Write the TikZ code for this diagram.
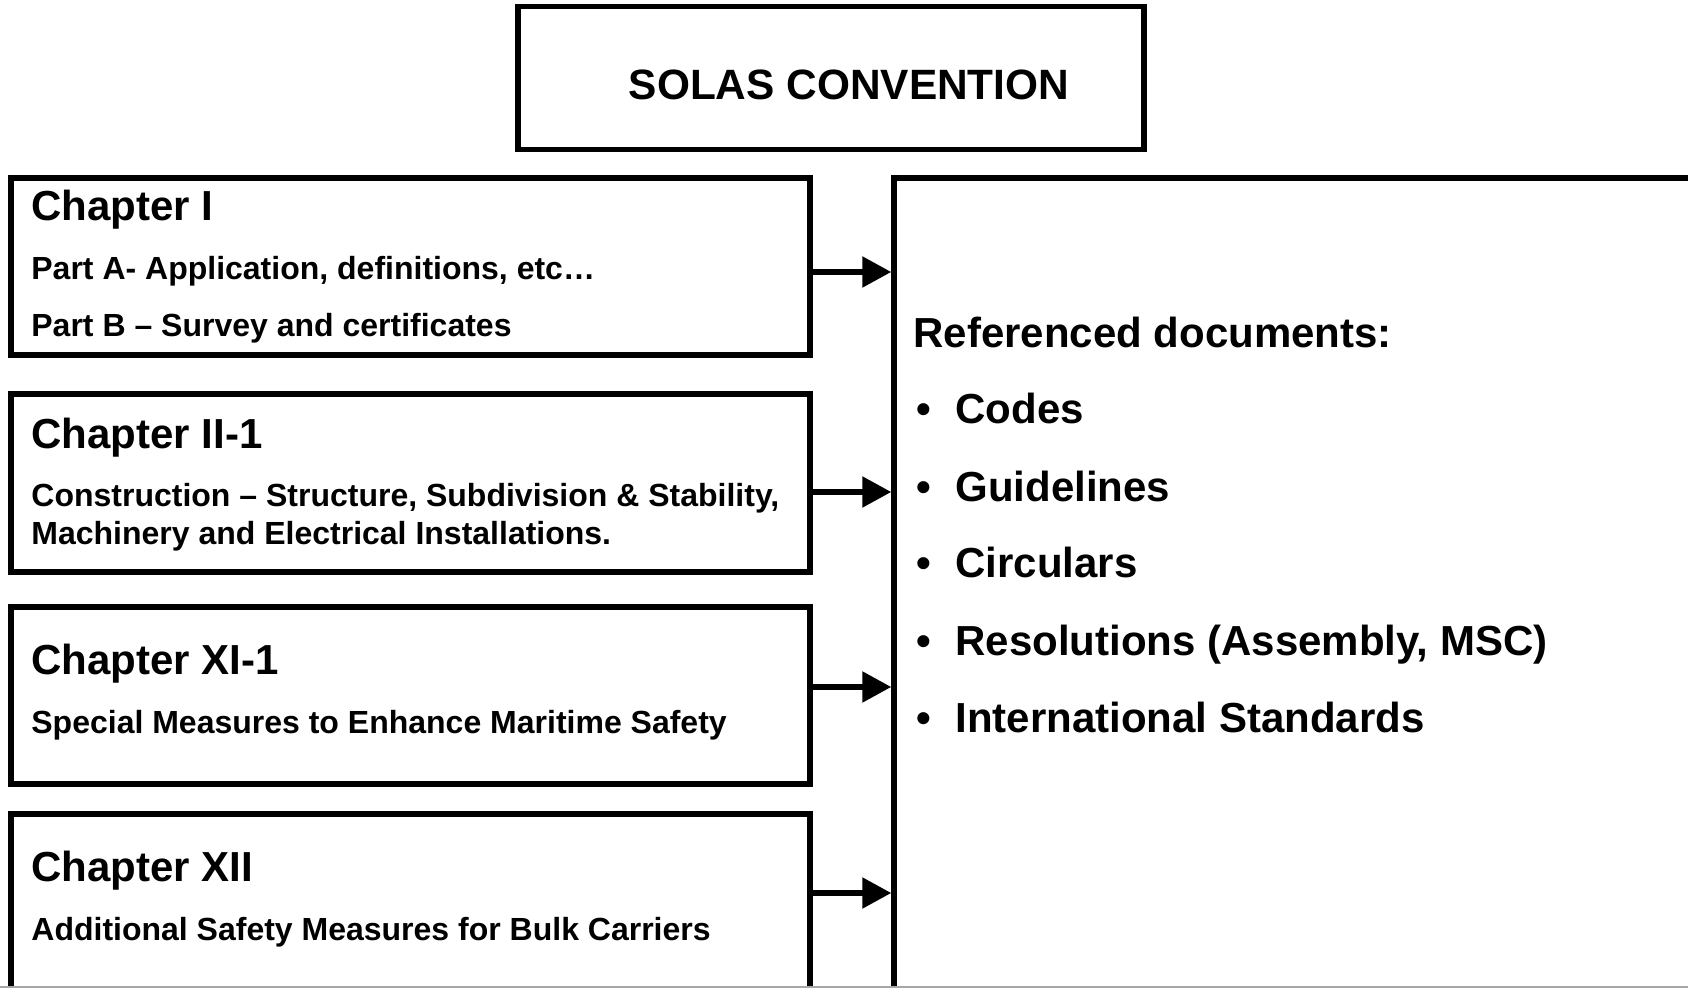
\documentclass[tikz,border=0pt]{standalone}
\usepackage{fontspec}
\setmainfont{Liberation Sans}
\usetikzlibrary{arrows.meta}
\begin{document}
\begin{tikzpicture}[x=0.5pt, y=-0.5pt,
  box/.style={draw, line width=2.75pt, minimum width=399.5pt, minimum height=88.5pt, inner sep=0pt},
  head/.style={anchor=base west, inner sep=0pt, font=\bfseries\fontsize{21pt}{25pt}\selectfont},
  sub/.style={anchor=base west, inner sep=0pt, font=\bfseries\fontsize{16pt}{19pt}\selectfont},
  link/.style={line width=2.75pt, -{Triangle[length=14.5pt,width=15pt]}}]
  \useasboundingbox (0,0) rectangle (1688,988);
  \clip (0,0) rectangle (1688,988);
  \node[box, minimum width=313pt, minimum height=71.5pt] (solas) at (831,78) {};
  \node[head, anchor=base, font=\bfseries\fontsize{21.2pt}{25pt}\selectfont] (title) at (849,100) {SOLAS CONVENTION};
  \node[box] (c1) at (410.5,266.5) {};
  \node[box, minimum height=89pt] (c2) at (410.5,483) {};
  \node[box] (c3) at (410.5,695.5) {};
  \node[box] (c4) at (410.5,902.5) {};
  \node[box, minimum width=410pt, minimum height=415pt] (refs) at (1304,593) {};
  \node[head] (c1t) at (31,221) {Chapter I};
  \node[sub] (c1a) at (31,280) {Part A- Application, definitions, etc…};
  \node[sub] (c1b) at (31,337) {Part B – Survey and certificates};
  \node[head] (c2t) at (31,449) {Chapter II-1};
  \node[sub] (c2a) at (31,507) {Construction – Structure, Subdivision \& Stability,};
  \node[sub] (c2b) at (31,545) {Machinery and Electrical Installations.};
  \node[head] (c3t) at (31,675) {Chapter XI-1};
  \node[sub] (c3a) at (31,734) {Special Measures to Enhance Maritime Safety};
  \node[head] (c4t) at (31,882) {Chapter XII};
  \node[sub] (c4a) at (31,940) {Additional Safety Measures for Bulk Carriers};
  \node[head] (reft) at (913,348) {Referenced documents:};
  \node[head] (b1) at (916,424) {•};
  \node[head] (i1) at (955,424) {Codes};
  \node[head] (b2) at (916,502) {•};
  \node[head] (i2) at (955,502) {Guidelines};
  \node[head] (b3) at (916,578) {•};
  \node[head] (i3) at (955,578) {Circulars};
  \node[head] (b4) at (916,656) {•};
  \node[head] (i4) at (955,656) {Resolutions (Assembly, MSC)};
  \node[head] (b5) at (916,733) {•};
  \node[head] (i5) at (955,733) {International Standards};
  \draw[link] (c1.east |- 0,272) -- (refs.west |- 0,272);
  \draw[link] (c2.east |- 0,492) -- (refs.west |- 0,492);
  \draw[link] (c3.east |- 0,687) -- (refs.west |- 0,687);
  \draw[link] (c4.east |- 0,893) -- (refs.west |- 0,893);
  \draw[gray!70, line width=1pt] (0,987) -- (1688,987);
\end{tikzpicture}
\end{document}
